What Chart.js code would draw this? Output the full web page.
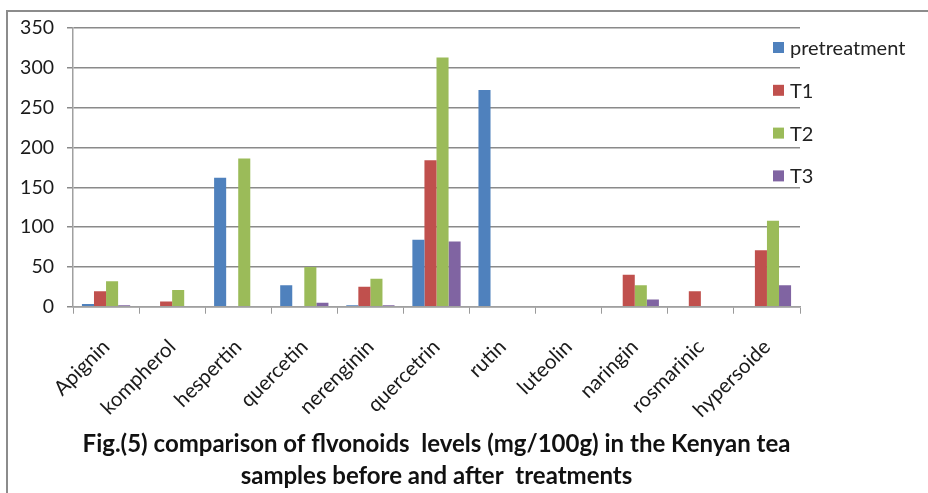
<!DOCTYPE html>
<html>
<head>
    <meta charset="utf-8">
    <script src="https://cdn.jsdelivr.net/npm/chart.js"></script>
    <style>
        body {
            margin: 0;
            background: #ffffff;
            overflow: hidden;
        }

        .frame {
            position: absolute;
            left: 6px;
            top: 10px;
            width: 1000px;
            height: 1000px;
            border: 2px solid #8c8c8c;
        }

        #wrap {
            position: absolute;
            left: 0;
            top: 0;
            width: 928px;
            height: 493px;
        }
    </style>
</head>
<body>
    <div class="frame"></div>
    <div id="wrap"><canvas id="flavChart"></canvas></div>

    <script>
        // flavonoid names along the x axis
        const compounds = ['Apignin', 'kompherol', 'hespertin', 'quercetin', 'nerenginin',
            'quercetrin', 'rutin', 'luteolin', 'naringin', 'rosmarinic', 'hypersoide'];

        // mg/100g
        const pretreatment = [3.5, 0, 162, 27, 2, 84, 272, 0, 0, 0, 0];
        const t1 = [19.5, 6.5, 0, 0, 25, 184, 0, 0, 40, 19.5, 71];
        const t2 = [32, 21, 186, 50, 35, 313, 0, 0, 27, 0, 108];
        const t3 = [2, 0, 0, 5, 2, 82, 0, 0, 9, 0, 27];

        const yTicks = [0, 50, 100, 150, 200, 250, 300, 350];

        const seriesNames = ['pretreatment', 'T1', 'T2', 'T3'];
        const seriesColors = ['#4F81BD', '#C0504D', '#9BBB59', '#8064A2'];

        // Excel style legend sitting over the right end of the plot
        const sideLegend = {
            id: 'sideLegend',
            afterDraw(chart) {
                const ctx = chart.ctx;
                const x = chart.chartArea.right - 27;
                ctx.save();
                ctx.font = '20px Lato';
                ctx.textBaseline = 'middle';
                chart.data.datasets.forEach((ds, i) => {
                    const cy = 47.5 + i * 42.8;
                    ctx.fillStyle = ds.backgroundColor;
                    ctx.fillRect(x, cy - 5.5, 11, 11);
                    ctx.fillStyle = '#222';
                    ctx.fillText(ds.label, x + 17, cy + 1);
                });
                ctx.restore();
            }
        };

        const allSeries = [pretreatment, t1, t2, t3];

        new Chart(document.getElementById('flavChart'), {
            type: 'bar',
            data: {
                labels: compounds,
                datasets: allSeries.map((vals, i) => ({
                    label: seriesNames[i],
                    data: vals,
                    backgroundColor: seriesColors[i],
                    borderWidth: 0,
                    categoryPercentage: 0.73,
                    barPercentage: 1.0
                }))
            },
            options: {
                responsive: true,
                maintainAspectRatio: false,
                animation: false,
                layout: {
                    padding: { left: 0, right: 128, top: 28, bottom: 0 }
                },
                plugins: {
                    legend: { display: false },
                    tooltip: { enabled: false },
                    title: {
                        display: true,
                        position: 'bottom',
                        fullSize: false,
                        text: ['Fig.(5) comparison of flvonoids  levels (mg/100g) in the Kenyan tea',
                            'samples before and after  treatments'],
                        color: '#111',
                        font: { family: 'Lato', size: 24, weight: 'bold', lineHeight: 1.36 },
                        padding: { top: 0, bottom: 0 }
                    }
                },
                scales: {
                    x: {
                        grid: {
                            offset: true,
                            drawOnChartArea: false,
                            drawTicks: true,
                            tickLength: 7,
                            color: '#9a9a9a'
                        },
                        border: { color: '#a0a0a0', width: 1.5 },
                        ticks: {
                            color: '#1a1a1a',
                            font: { family: 'Lato', size: 20.5 },
                            maxRotation: 45,
                            minRotation: 45,
                            padding: 21,
                            autoSkip: false
                        },
                        afterFit(scale) {
                            scale.height = 121;
                        }
                    },
                    y: {
                        min: 0,
                        max: 350,
                        afterBuildTicks(scale) {
                            scale.ticks = yTicks.map(v => ({ value: v }));
                        },
                        grid: {
                            color: '#8a8a8a',
                            lineWidth: 1.5,
                            tickLength: 6
                        },
                        border: { color: '#a0a0a0', width: 1.5 },
                        ticks: {
                            color: '#1a1a1a',
                            font: { family: 'Lato', size: 19.5 },
                            padding: 13
                        },
                        afterFit(scale) {
                            scale.width = 73;
                        }
                    }
                }
            },
            plugins: [sideLegend]
        });
    </script>
</body>
</html>
